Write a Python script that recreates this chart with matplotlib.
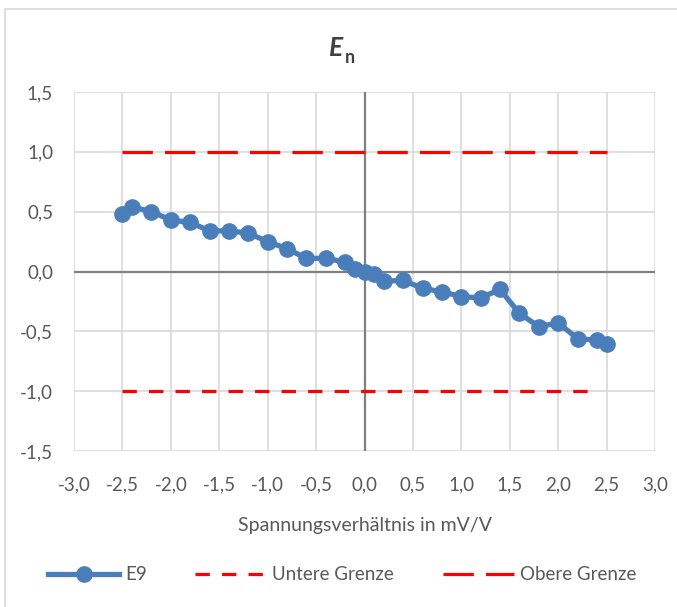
import matplotlib.pyplot as plt
from matplotlib.patches import Rectangle
from matplotlib.ticker import FuncFormatter, MultipleLocator

plt.rcParams['font.family'] = ['Lato', 'DejaVu Sans']

# E9 values
x_e9 = [-2.5, -2.4, -2.2, -2.0, -1.8, -1.6, -1.4, -1.2, -1.0, -0.8, -0.6, -0.4,
        -0.2, -0.1, 0.0, 0.1, 0.2, 0.4, 0.6, 0.8, 1.0, 1.2, 1.4, 1.6, 1.8, 2.0,
        2.2, 2.4, 2.5]
y_e9 = [0.48, 0.54, 0.50, 0.43, 0.41, 0.34, 0.34, 0.32, 0.25, 0.19, 0.11, 0.11,
        0.08, 0.02, 0.00, -0.02, -0.08, -0.075, -0.14, -0.17, -0.21, -0.22, -0.15,
        -0.35, -0.46, -0.43, -0.56, -0.575, -0.61]

x_lower = [-2.5, 2.37]
y_lower = [-1.0, -1.0]
x_upper = [-2.5, 2.5]
y_upper = [1.0, 1.0]

text_col = '#595959'
blue = '#4a7ebb'

fig = plt.figure(figsize=(6.77, 6.07), dpi=100)
fig.patches.append(Rectangle((5 / 677, -0.1), 1.2, 1 - 9 / 607 + 0.1,
                             transform=fig.transFigure, fill=False,
                             edgecolor='#d9d9d9', linewidth=1.2))

ax = fig.add_axes([74 / 677, 1 - 451 / 607, (655 - 74) / 677, (451 - 92) / 607])

ax.set_xlim(-3, 3)
ax.set_ylim(-1.5, 1.5)
ax.xaxis.set_major_locator(MultipleLocator(0.5))
ax.yaxis.set_major_locator(MultipleLocator(0.5))
fmt = FuncFormatter(lambda v, p: f'{v:.1f}'.replace('.', ',').replace('-0,0', '0,0'))
ax.xaxis.set_major_formatter(fmt)
ax.yaxis.set_major_formatter(fmt)
ax.grid(True, color='#d9d9d9', linewidth=1.2)
ax.set_axisbelow(True)
for s in ax.spines.values():
    s.set_visible(False)
ax.tick_params(length=0, labelsize=13.5, labelcolor=text_col)
ax.tick_params(axis='x', pad=18)
ax.tick_params(axis='y', pad=15)

ax.axhline(0, color='#7f7f7f', linewidth=1.6, zorder=1)
ax.axvline(0, color='#7f7f7f', linewidth=1.6, zorder=1)

ax.plot(x_e9, y_e9, color=blue, linewidth=3.8, marker='o', markersize=11,
        label='E9', zorder=3)
ax.plot(x_lower, y_lower, color='#ff0000', linewidth=2.3, dashes=(4.5, 3.8),
        label='Untere Grenze', zorder=2)
ax.plot(x_upper, y_upper, color='#ff0000', linewidth=2.3, dashes=(9.5, 3.8),
        label='Obere Grenze', zorder=2)

ax.set_xlabel('Spannungsverhältnis in mV/V', fontsize=14, color=text_col,
              labelpad=17)

fig.text(0.507, 0.908, 'E', fontsize=19, fontweight='bold', fontstyle='italic',
         color='#404040', ha='right', va='baseline')
fig.text(0.509, 0.896, 'n', fontsize=13, fontweight='bold', color='#404040',
         ha='left', va='baseline')

leg = fig.legend(loc='center', bbox_to_anchor=(0.505, 1 - 575 / 607), ncol=3,
                 frameon=False, fontsize=13.5, handlelength=3.8,
                 columnspacing=2.6, handletextpad=0.3)
for t in leg.get_texts():
    t.set_color(text_col)

fig.savefig('out.png', dpi=100)
